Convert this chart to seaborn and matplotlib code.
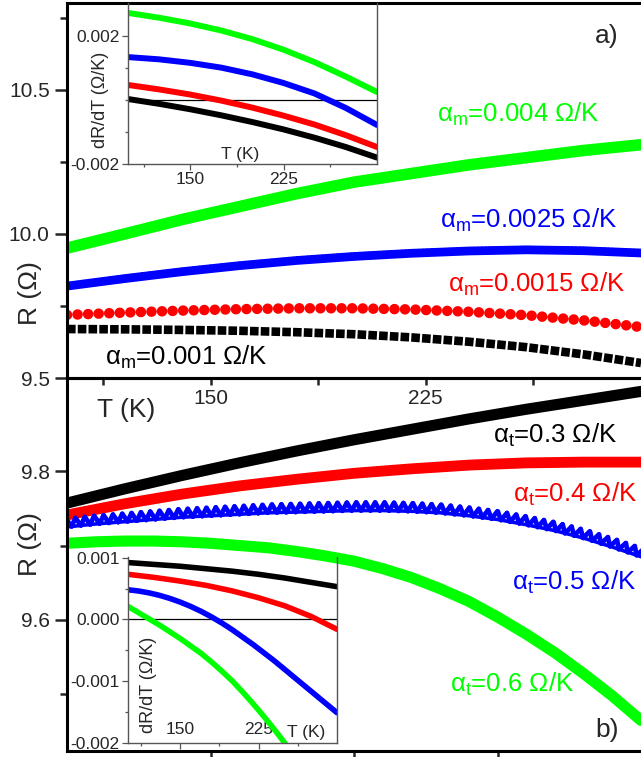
import matplotlib
matplotlib.use("Agg")
import matplotlib.pyplot as plt
import matplotlib.patheffects as pe
import seaborn as sns

# temperatures (K) at which the curves were read
T = [100, 120, 140, 160, 180, 200, 220, 240, 260, 280, 300]
T_fine = [100, 110, 120, 130, 140, 150, 160, 170, 180, 190, 200,
          210, 220, 230, 240, 250, 260, 270, 280, 290, 300]

# panel a): R(T) for several alpha_m
R_a_black = [9.670, 9.669, 9.667, 9.664, 9.659, 9.652, 9.641, 9.626, 9.607, 9.582, 9.552]
R_a_red = [9.719, 9.727, 9.734, 9.739, 9.742, 9.742, 9.738, 9.730, 9.718, 9.700, 9.677]
R_a_blue = [9.819, 9.845, 9.869, 9.890, 9.908, 9.922, 9.933, 9.941, 9.945, 9.942, 9.934]
R_a_green = [9.951, 10.00, 10.05, 10.095, 10.14, 10.18, 10.21, 10.24, 10.265, 10.29, 10.31]

# panel b): R(T) for several alpha_t
R_b_black = [9.757, 9.776, 9.794, 9.811, 9.827, 9.842, 9.856, 9.870, 9.883, 9.895, 9.907]
R_b_red = [9.741, 9.756, 9.769, 9.780, 9.789, 9.797, 9.803, 9.808, 9.811, 9.812, 9.812]
R_b_blue = [9.725, 9.729, 9.732, 9.735, 9.738, 9.740, 9.742, 9.744, 9.745, 9.746, 9.747,
            9.747, 9.746, 9.744, 9.740, 9.735, 9.728, 9.720, 9.710, 9.698, 9.685]
R_b_green = [9.703, 9.705, 9.706, 9.706, 9.705, 9.703, 9.700, 9.697, 9.692, 9.686, 9.679,
             9.669, 9.657, 9.642, 9.625, 9.604, 9.581, 9.556, 9.528, 9.498, 9.465]

# insets: dR/dT (Ohm/K)
T_in = [100, 125, 150, 175, 200, 225, 250, 275, 300]
dR_a_black = [0.00003, -0.00012, -0.00029, -0.00048, -0.00069, -0.00092, -0.00118, -0.00147, -0.0018]
dR_a_red = [0.00047, 0.00033, 0.00017, -0.00002, -0.00024, -0.00049, -0.00077, -0.0011, -0.00147]
dR_a_blue = [0.00134, 0.00127, 0.00116, 0.00101, 0.0008, 0.00053, 0.0002, -0.00025, -0.00078]
dR_a_green = [0.00272, 0.00257, 0.00239, 0.00217, 0.0019, 0.00157, 0.00118, 0.00073, 0.00025]

dR_b_black = [0.00092, 0.00089, 0.00086, 0.00082, 0.00078, 0.00073, 0.00067, 0.0006, 0.00053]
dR_b_red = [0.00073, 0.00068, 0.00062, 0.00055, 0.00046, 0.00035, 0.00022, 0.00005, -0.00016]
dR_b_blue = [0.00048, 0.00046, 0.00043, 0.00039, 0.00034, 0.00028, 0.00021, 0.00013, 0.00004,
             -0.00006, -0.00017, -0.00029, -0.00041, -0.00054, -0.00067, -0.00081, -0.00095,
             -0.00109, -0.00123, -0.00137, -0.00151]
T_in_green = [100, 110, 120, 130, 140, 150, 160, 170, 180, 190, 200,
              210, 220, 230, 240, 250, 260]
dR_b_green = [0.00021, 0.00011, 0.00001, -0.00009, -0.0002, -0.00031, -0.00043, -0.00055,
              -0.00069, -0.00084, -0.001, -0.00118, -0.00137, -0.00157, -0.00178, -0.002,
              -0.00223]

labels_a = ["0.001", "0.0015", "0.0025", "0.004"]
labels_b = ["0.3", "0.4", "0.5", "0.6"]

BLACK, RED, BLUE, GREEN = "#000000", "#ff0000", "#0000ff", "#00ff00"

sns.set_style("ticks")
plt.rcParams["font.family"] = ["Liberation Sans", "DejaVu Sans"]
plt.rcParams["mathtext.default"] = "regular"

W, H = 641, 757
fig = plt.figure(figsize=(W / 100, H / 100), dpi=100)


def box(x0, y0, x1, y1):
    return [x0 / W, 1 - y1 / H, (x1 - x0) / W, (y1 - y0) / H]


def fxy(x, y):
    return x / W, 1 - y / H


def triangles(spacing, width):
    return [pe.TickedStroke(spacing=spacing, angle=60, length=1.0, linewidth=width),
            pe.TickedStroke(spacing=spacing, angle=120, length=1.0, linewidth=width),
            pe.Normal()]


ax1 = fig.add_axes(box(67, 3, 641, 378))
ax2 = fig.add_axes(box(67, 378, 641, 751))
ax2.patch.set_visible(False)

for ax in (ax1, ax2):
    ax.set_xlim(100, 300)
    for s in ("top", "bottom", "left"):
        ax.spines[s].set_linewidth(2.2)
        ax.spines[s].set_color("black")
    ax.spines["right"].set_visible(False)
    ax.tick_params(axis="y", which="major", direction="out", length=8.5, width=1.8,
                   labelsize=15, pad=4)
    ax.tick_params(axis="y", which="minor", direction="out", length=5, width=1.8)
    ax.tick_params(axis="x", which="both", direction="out", length=5, width=1.8,
                   labelsize=15, pad=3)

# ---- panel a)
sns.lineplot(x=T, y=R_a_green, ax=ax1, color=GREEN, lw=8.3, solid_joinstyle="round")
sns.lineplot(x=T, y=R_a_blue, ax=ax1, color=BLUE, lw=6.3, solid_joinstyle="round")
ax1.lines[-1].set_path_effects(triangles(2.6, 1.3))
sns.lineplot(x=T, y=R_a_red, ax=ax1, color=RED, lw=7.6,
             linestyle=(0, (0.001, 1.0)), dash_capstyle="round")
sns.lineplot(x=T, y=R_a_black, ax=ax1, color=BLACK, lw=6.2,
             linestyle=(0, (1.0, 0.25)), dash_capstyle="butt")

ax1.set_ylim(9.5, 10.802)
ax1.set_yticks([9.5, 10.0, 10.5])
ax1.set_yticks([9.75, 10.25, 10.75], minor=True)
ax1.set_xticks([112.5, 150, 187.5, 225, 262.5], labels=["", "150", "", "225", ""])
ax1.set_xlabel("")
ax1.set_ylabel("")

# ---- panel b)
sns.lineplot(x=T, y=R_b_black, ax=ax2, color=BLACK, lw=8.0, solid_joinstyle="round")
sns.lineplot(x=T, y=R_b_red, ax=ax2, color=RED, lw=7.8, solid_joinstyle="round")
sns.lineplot(x=T_fine, y=R_b_blue, ax=ax2, color=BLUE, lw=2.6)
ax2.lines[-1].set_path_effects(triangles(6.7, 3.4))
sns.lineplot(x=T_fine, y=R_b_green, ax=ax2, color=GREEN, lw=8.0, solid_joinstyle="round")

ax2.set_ylim(9.424, 9.925)
ax2.set_yticks([9.6, 9.8])
ax2.set_yticks([9.5, 9.7], minor=True)
ax2.set_xticks([150, 200, 250], labels=["", "", ""])
ax2.tick_params(axis="x", top=False)
ax2.set_xlabel("")
ax2.set_ylabel("")

# axis titles (Origin style placement)
fig.text(*fxy(126, 410), "T (K)", fontsize=19, ha="center", va="center")
fig.text(*fxy(30, 293), "R (Ω)", fontsize=19, rotation=90, ha="center", va="center")
fig.text(*fxy(30, 544), "R (Ω)", fontsize=19, rotation=90, ha="center", va="center")

# curve labels
for x, y, c, v in [(437, 122, GREEN, labels_a[3]), (440, 228, BLUE, labels_a[2]),
                   (448, 292, RED, labels_a[1]), (105, 365, BLACK, labels_a[0])]:
    fig.text(*fxy(x, y), r"$\alpha_m$=" + v + " Ω/K", color=c, fontsize=18.5,
             ha="left", va="baseline")
for x, y, c, v in [(493, 443, BLACK, labels_b[0]), (513, 502, RED, labels_b[1]),
                   (512, 590, BLUE, labels_b[2]), (450, 692, GREEN, labels_b[3])]:
    fig.text(*fxy(x, y), r"$\alpha_t$=" + v + " Ω/K", color=c, fontsize=18.5,
             ha="left", va="baseline")
fig.text(*fxy(595, 43), "a)", fontsize=19, ha="left", va="baseline")
fig.text(*fxy(595, 737), "b)", fontsize=19, ha="left", va="baseline")

# ---- insets
ins_a = fig.add_axes(box(128, 3, 377, 164))
ins_b = fig.add_axes(box(128, 557, 337, 743))
for ax in (ins_a, ins_b):
    ax.patch.set_visible(False)
    ax.set_xlim(100, 300)
    for s in ax.spines.values():
        s.set_color("#555555")
        s.set_linewidth(1.0)
    ax.tick_params(which="major", direction="out", length=4, width=0.9,
                   color="#555555", labelsize=12.5, pad=2)
    ax.tick_params(which="minor", direction="out", length=2.5, width=0.9,
                   color="#555555")
    ax.axhline(0, color="black", lw=0.9)
    ax.set_xticks([150, 225])
    ax.set_xticks([112.5, 187.5, 262.5], minor=True)

for y, c in [(dR_a_green, GREEN), (dR_a_blue, BLUE), (dR_a_red, RED), (dR_a_black, BLACK)]:
    sns.lineplot(x=T_in, y=y, ax=ins_a, color=c, lw=4.3, solid_joinstyle="round")
ins_a.set_ylim(-0.002, 0.00303)
ins_a.set_yticks([-0.002, 0.002], labels=["-0.002", "0.002"])
ins_a.set_yticks([-0.001, 0.0, 0.001], minor=True)
ins_a.spines["top"].set_visible(False)
ins_a.set_xlabel("")
ins_a.set_ylabel("")
ins_a.text(0.45, 0.056, "T (K)", transform=ins_a.transAxes, fontsize=12.5,
           ha="center", va="center")
ins_a.text(-0.112, 0.40, "dR/dT (Ω/K)", transform=ins_a.transAxes, fontsize=13,
           rotation=90, ha="center", va="center")

for x, y, c in [(T_in, dR_b_black, BLACK), (T_in, dR_b_red, RED),
                (T_fine, dR_b_blue, BLUE), (T_in_green, dR_b_green, GREEN)]:
    sns.lineplot(x=x, y=y, ax=ins_b, color=c, lw=4.0, solid_joinstyle="round")
ins_b.set_ylim(-0.002, 0.00101)
ins_b.set_yticks([-0.002, -0.001, 0.0, 0.001],
                 labels=["-0.002", "-0.001", "0.000", "0.001"])
ins_b.set_yticks([-0.0015, -0.0005, 0.0005], minor=True)
ins_b.tick_params(axis="x", which="major", pad=-19)
ins_b.spines["top"].set_visible(False)
ins_b.set_xlabel("")
ins_b.set_ylabel("")
ins_b.text(0.85, 0.054, "T (K)", transform=ins_b.transAxes, fontsize=12.5,
           ha="center", va="center")
ins_b.text(0.10, 0.31, "dR/dT (Ω/K)", transform=ins_b.transAxes, fontsize=13,
           rotation=90, ha="center", va="center")

fig.savefig("out.png", dpi=100)
